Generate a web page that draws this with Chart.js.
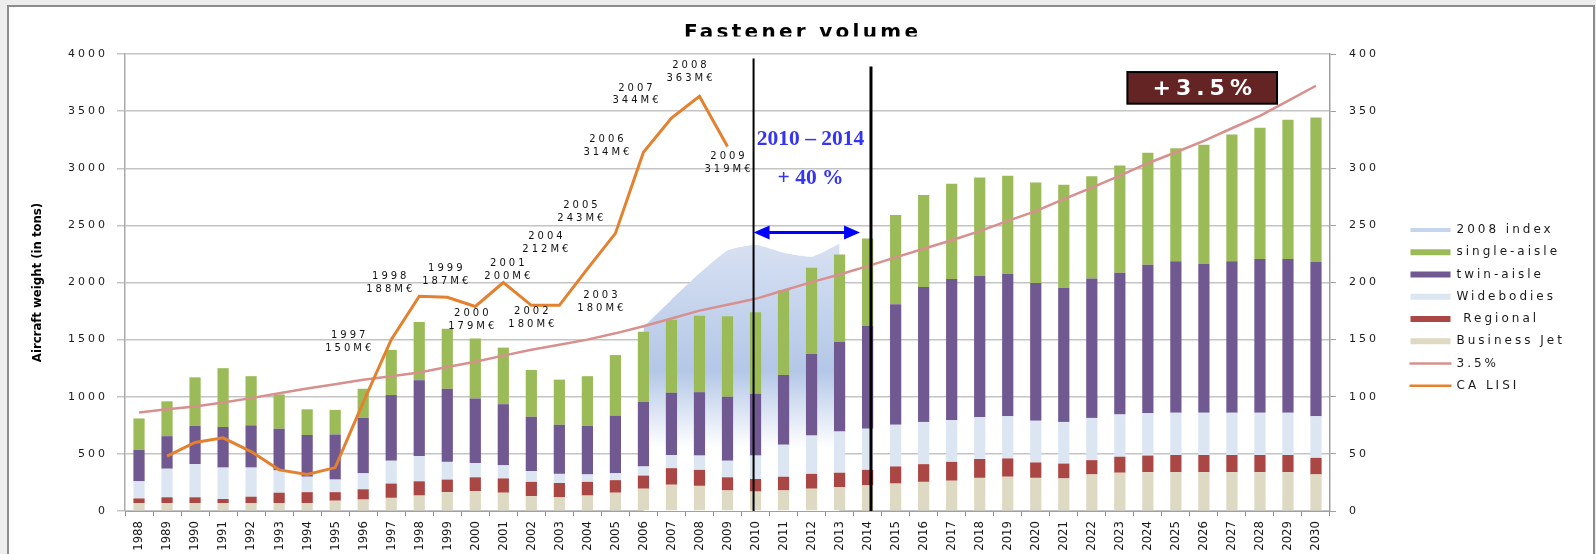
<!DOCTYPE html>
<html>
<head>
<meta charset="utf-8">
<script src="https://cdn.jsdelivr.net/npm/chart.js@4.4.1/dist/chart.umd.min.js"></script>
<style>
html,body{margin:0;padding:0;background:#ededed;}
canvas{display:block;}
</style>
</head>
<body>
<canvas id="c" width="1596" height="554"></canvas>
<script>
// ---------------- DATA ----------------
const years = ['1988','1989','1990','1991','1992','1993','1994','1995','1996','1997','1998','1999','2000','2001','2002','2003','2004','2005','2006','2007','2008','2009','2010','2011','2012','2013','2014','2015','2016','2017','2018','2019','2020','2021','2022','2023','2024','2025','2026','2027','2028','2029','2030'];

const businessJet = [70,70,70,70,70,70,70,90,100,115,135,165,175,160,130,120,135,160,195,230,220,180,170,180,195,210,225,240,255,265,290,300,290,285,320,335,340,340,340,340,340,340,320];
const regional    = [40,50,50,35,55,90,95,75,90,125,125,110,120,125,125,125,120,110,115,145,140,115,110,120,130,125,135,150,155,165,165,160,135,130,125,140,145,150,150,150,150,150,145];
const widebodies  = [150,250,290,275,255,195,135,110,140,200,220,155,125,115,95,80,65,60,80,115,125,145,205,280,335,360,360,365,370,365,365,370,365,365,370,370,370,370,370,370,370,370,365];
const twinAisle   = [275,285,335,355,370,365,365,395,485,575,665,640,565,535,475,430,425,505,565,545,555,560,540,610,715,785,900,1055,1180,1235,1240,1245,1205,1175,1220,1240,1300,1325,1305,1325,1345,1345,1350];
const singleAisle = [275,305,425,515,430,300,225,215,255,395,510,525,525,495,410,395,435,530,615,640,670,705,715,745,755,765,765,780,805,835,860,860,880,900,895,940,980,990,1040,1110,1150,1220,1265];

// "2008 index" shaded area (left axis, tons)
const index2008 = [null,null,null,null,null,null,null,null,null,null,null,null,null,null,null,null,null,null,1610,1850,2080,2280,2330,2260,2225,2340,null,null,null,null,null,null,null,null,null,null,null,null,null,null,null,null,null];

// 3.5% growth reference line (left axis, tons)
const growth35 = [862,890,915,950,988,1030,1073,1110,1149,1180,1213,1260,1307,1360,1412,1455,1500,1555,1617,1685,1754,1805,1857,1930,2003,2070,2143,2220,2295,2370,2450,2540,2625,2730,2830,2935,3044,3140,3240,3350,3459,3590,3722];

// CA LISI turnover (right axis, M€)
const caLisi = [null,48,60,64,52,36,32,38,95,150,188,187,179,200,180,180,212,243,314,344,363,319,null,null,null,null,null,null,null,null,null,null,null,null,null,null,null,null,null,null,null,null,null];

const leftTicks  = {min:0, max:4000, step:500};
const rightTicks = {min:0, max:400, step:50};

const titleText = 'Fastener volume';
const yTitleText = 'Aircraft weight (in tons)';

// ---------------- ANNOTATION LAYOUT (not data) ----------------
const labelOffsets = { // dx, dy of first text line centre relative to point
  '1997':[-43,-4], '1998':[-30,-20], '1999':[-2,-29], '2000':[-4,7], '2001':[4,-19],
  '2002':[0,6], '2003':[41,-10], '2004':[-42,-32], '2005':[-35,-28], '2006':[-37,-13],
  '2007':[-36,-30], '2008':[-10,-31], '2009':[0,10]
};
const periodAnno = {from:'2010', to:'2014', fromShift:-0.07, toShift:0.12,
  fromTop:3960, toTop:3890, arrowValue:2438, arrowEndShift:-0.27,
  line1:'2010 – 2014', line2:'+ 40 %', line1Value:3256, line2Value:2914};
const growthBox = {text:'+3.5%', x0:35.27, x1:40.61, yTop:3842, yBottom:3565};

// ---------------- STYLES ----------------
const C = {
  bj:'#DDD9C3', reg:'#AA4643', wb:'#DCE6F2', ta:'#705890', sa:'#9BBB59',
  idx:'#C6D5EE', g35:'#D7908E', lisi:'#E4812E'
};
const narrow = '"Liberation Sans Narrow","DejaVu Sans Condensed","Liberation Sans",sans-serif';
const LS = {x:'0px', y:'3px', y2:'3px'};

// letter spacing for tick labels (text in reference is widely spaced)
const origDrawLabels = Chart.Scale.prototype.drawLabels;
Chart.Scale.prototype.drawLabels = function(area){
  const ctx = this.ctx; ctx.save();
  ctx.letterSpacing = LS[this.id] || '0px';
  origDrawLabels.call(this, area);
  ctx.restore();
};

Chart.defaults.font.family = '"DejaVu Sans", sans-serif';

const frame = {left:8, top:6, right:1594};

const decor = {
  id:'decor',
  beforeDraw(chart){
    const ctx = chart.ctx, W = chart.width, H = chart.height;
    ctx.save();
    ctx.fillStyle = '#ededed'; ctx.fillRect(0,0,W,H);
    ctx.fillStyle = '#ffffff'; ctx.fillRect(frame.left, frame.top, frame.right-frame.left, H);
    ctx.strokeStyle = '#8c8c8c'; ctx.lineWidth = 2;
    ctx.strokeRect(frame.left, frame.top, frame.right-frame.left, H+20);
    // title (clipped at bottom as in reference)
    ctx.beginPath(); ctx.rect(0,0,W,36.5); ctx.clip();
    ctx.font = 'bold 20px "DejaVu Sans"';
    ctx.letterSpacing = '3.3px';
    ctx.fillStyle = '#000'; ctx.textAlign = 'center'; ctx.textBaseline = 'alphabetic';
    ctx.fillText(titleText, (frame.left+frame.right)/2 + 1.6, 37.5);
    ctx.restore();
  },
  afterDatasetsDraw(chart){
    const ctx = chart.ctx, x = chart.scales.x, y = chart.scales.y;
    const catW = x.getPixelForValue(1) - x.getPixelForValue(0);
    const bottom = y.getPixelForValue(0);
    ctx.save();
    // CA LISI labels
    const lisiIdx = chart.data.datasets.findIndex(d => d.label === 'CA LISI');
    const meta = chart.getDatasetMeta(lisiIdx);
    ctx.font = '10px "DejaVu Sans"'; ctx.letterSpacing = '3px';
    ctx.fillStyle = '#111'; ctx.textAlign = 'center'; ctx.textBaseline = 'middle';
    years.forEach((yr,i) => {
      const off = labelOffsets[yr];
      if (!off || caLisi[i] == null) return;
      const p = meta.data[i];
      ctx.fillText(yr, p.x + off[0] + 1.5, p.y + off[1]);
      ctx.fillText(caLisi[i] + 'M€', p.x + off[0] + 1.5, p.y + off[1] + 12.7);
    });
    ctx.letterSpacing = '0px';
    // vertical period lines
    const xa = x.getPixelForValue(years.indexOf(periodAnno.from)) + periodAnno.fromShift*catW;
    const xb = x.getPixelForValue(years.indexOf(periodAnno.to)) + periodAnno.toShift*catW;
    ctx.strokeStyle = '#000';
    ctx.lineWidth = 2;
    ctx.beginPath(); ctx.moveTo(xa, y.getPixelForValue(periodAnno.fromTop)); ctx.lineTo(xa, bottom); ctx.stroke();
    ctx.lineWidth = 3;
    ctx.beginPath(); ctx.moveTo(xb, y.getPixelForValue(periodAnno.toTop)); ctx.lineTo(xb, bottom); ctx.stroke();
    // double arrow
    const ay = y.getPixelForValue(periodAnno.arrowValue);
    const ax0 = xa, ax1 = x.getPixelForValue(years.indexOf(periodAnno.to)) + periodAnno.arrowEndShift*catW;
    ctx.strokeStyle = '#0000FF'; ctx.fillStyle = '#0000FF'; ctx.lineWidth = 3;
    ctx.beginPath(); ctx.moveTo(ax0+12, ay); ctx.lineTo(ax1-12, ay); ctx.stroke();
    ctx.beginPath(); ctx.moveTo(ax0, ay); ctx.lineTo(ax0+16, ay-7); ctx.lineTo(ax0+16, ay+7); ctx.closePath(); ctx.fill();
    ctx.beginPath(); ctx.moveTo(ax1, ay); ctx.lineTo(ax1-16, ay-7); ctx.lineTo(ax1-16, ay+7); ctx.closePath(); ctx.fill();
    // period text
    const tx = (x.getPixelForValue(years.indexOf(periodAnno.from)) + x.getPixelForValue(years.indexOf(periodAnno.to)))/2 - 1;
    ctx.fillStyle = '#3434F4'; ctx.font = 'bold 21.5px "Liberation Serif"';
    ctx.textAlign = 'center'; ctx.textBaseline = 'middle';
    ctx.fillText(periodAnno.line1, tx, y.getPixelForValue(periodAnno.line1Value));
    ctx.fillText(periodAnno.line2, tx, y.getPixelForValue(periodAnno.line2Value));
    // +3.5% box
    const bx0 = x.getPixelForValue(0) + growthBox.x0*catW, bx1 = x.getPixelForValue(0) + growthBox.x1*catW;
    const by0 = y.getPixelForValue(growthBox.yTop), by1 = y.getPixelForValue(growthBox.yBottom);
    ctx.fillStyle = '#632423'; ctx.fillRect(bx0, by0, bx1-bx0, by1-by0);
    ctx.strokeStyle = '#000'; ctx.lineWidth = 2; ctx.strokeRect(bx0, by0, bx1-bx0, by1-by0);
    ctx.fillStyle = '#fff'; ctx.font = 'bold 22px "DejaVu Sans"'; ctx.letterSpacing = '5px';
    ctx.fillText(growthBox.text, (bx0+bx1)/2 + 2.5, (by0+by1)/2 + 1);
    ctx.restore();
  },
  afterDraw(chart){
    const ctx = chart.ctx, area = chart.chartArea;
    const order = ['2008 index','single-aisle','twin-aisle','Widebodies',' Regional','Business Jet','3.5%','CA LISI'];
    const sx = area.right + 80.5, sw = 40, tx = sx + 46, y0 = 230, dy = 22.25;
    ctx.save();
    ctx.font = '12px "DejaVu Sans"'; ctx.letterSpacing = '3px';
    ctx.textAlign = 'left'; ctx.textBaseline = 'middle'; ctx.fillStyle = '#1a1a1a';
    order.forEach((lab, k) => {
      const ds = chart.data.datasets.find(d => d.label === lab);
      const cy = y0 + k*dy;
      if (ds.type === 'line' && !ds.fill) {
        ctx.strokeStyle = ds.borderColor; ctx.lineWidth = 2.5;
        ctx.beginPath(); ctx.moveTo(sx-1, cy); ctx.lineTo(sx+sw+1, cy); ctx.stroke();
      } else if (ds.type === 'line') {
        ctx.fillStyle = C.idx; ctx.fillRect(sx, cy-2, sw, 4);
      } else {
        ctx.fillStyle = ds.backgroundColor; ctx.fillRect(sx, cy-3, sw, 6);
      }
      ctx.fillStyle = '#1a1a1a';
      ctx.fillText(lab, tx, cy);
    });
    ctx.restore();
  }
};

function areaGradient(context){
  const chart = context.chart;
  const y = chart.scales.y;
  if (!chart.chartArea || !y) return C.idx;
  const top = y.getPixelForValue(2400), bot = y.getPixelForValue(0);
  const g = chart.ctx.createLinearGradient(0, top, 0, bot);
  g.addColorStop(0, '#D9E2F3');
  g.addColorStop(0.49, '#B4C7E7');
  g.addColorStop(0.77, '#FFFFFF');
  g.addColorStop(1, '#FFFFFF');
  return g;
}

const barDs = (label, data, color) => ({
  type:'bar', label, data, backgroundColor:color, borderWidth:0,
  barPercentage:0.4, categoryPercentage:1.0, stack:'fleet', yAxisID:'y', order:5
});

const plainNumber = v => String(v);

new Chart(document.getElementById('c'), {
  data:{
    labels: years,
    datasets:[
      {type:'line', label:'2008 index', data:index2008, yAxisID:'y', stack:'idx', fill:'origin',
       backgroundColor: areaGradient, borderWidth:0, borderColor:'rgba(0,0,0,0)', pointRadius:0, tension:0.15, order:10},
      barDs('Business Jet', businessJet, C.bj),
      barDs(' Regional', regional, C.reg),
      barDs('Widebodies', widebodies, C.wb),
      barDs('twin-aisle', twinAisle, C.ta),
      barDs('single-aisle', singleAisle, C.sa),
      {type:'line', label:'3.5%', data:growth35, yAxisID:'y', stack:'g35', fill:false,
       borderColor:C.g35, borderWidth:2.5, pointRadius:0, tension:0, order:2},
      {type:'line', label:'CA LISI', data:caLisi, yAxisID:'y2', fill:false,
       borderColor:C.lisi, borderWidth:3, pointRadius:0, tension:0, order:1}
    ]
  },
  options:{
    responsive:false, animation:false, devicePixelRatio:1,
    layout:{padding:{top:54, right:0, bottom:0, left:0}},
    plugins:{legend:{display:false}, title:{display:false}, tooltip:{enabled:false}},
    scales:{
      x:{
        stacked:true, offset:true,
        grid:{display:true, drawOnChartArea:false, drawTicks:true, tickLength:5, color:'#8c8c8c', offset:true},
        border:{display:true, color:'#a0a0a0', width:1},
        ticks:{autoSkip:false, minRotation:90, maxRotation:90, padding:5, color:'#1a1a1a', font:{family:narrow, size:13}},
        afterFit(s){ s.height = 43; }
      },
      y:{
        stacked:true, position:'left', min:leftTicks.min, max:leftTicks.max,
        ticks:{stepSize:leftTicks.step, padding:9, color:'#1a1a1a', font:{size:11}, callback:plainNumber},
        grid:{color:'#c4c4c4', lineWidth:1.5, tickLength:8, drawTicks:true},
        border:{display:true, color:'#aaaaaa', width:1.5},
        title:{display:true, text:yTitleText, color:'#000', font:{family:narrow, size:13, weight:'bold'}, padding:{top:30, bottom:0}},
        afterFit(s){ s.width = 125; }
      },
      y2:{
        position:'right', min:rightTicks.min, max:rightTicks.max,
        ticks:{stepSize:rightTicks.step, padding:13, color:'#1a1a1a', font:{size:11}, callback:plainNumber},
        grid:{drawOnChartArea:false, tickLength:6, color:'#a0a0a0'},
        border:{display:true, color:'#a0a0a0', width:1.5},
        afterFit(s){ s.width = 266; }
      }
    }
  },
  plugins:[decor]
});
</script>
</body>
</html>
